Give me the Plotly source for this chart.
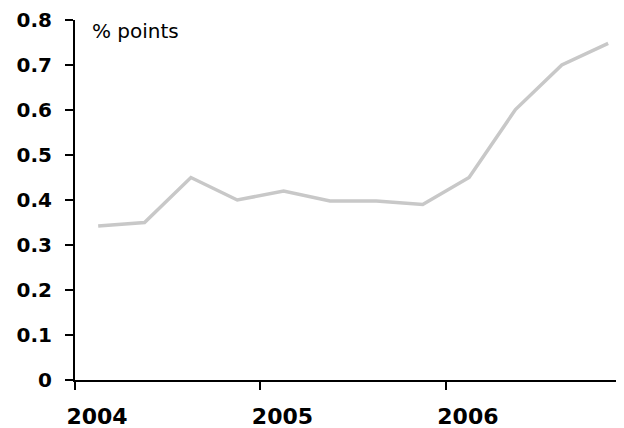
import plotly.graph_objects as go

# quarterly data, 2004 Q1 - 2006 Q4
years = [2004, 2004, 2004, 2004, 2005, 2005, 2005, 2005, 2006, 2006, 2006, 2006]
quarters = [1, 2, 3, 4, 1, 2, 3, 4, 1, 2, 3, 4]
values = [0.342, 0.350, 0.450, 0.400, 0.420, 0.398, 0.398, 0.390, 0.450, 0.601, 0.700, 0.748]
tick_years = [2004, 2005, 2006]
y_ticks = [0, 0.1, 0.2, 0.3, 0.4, 0.5, 0.6, 0.7, 0.8]
y_labels = ["0", "0.1", "0.2", "0.3", "0.4", "0.5", "0.6", "0.7", "0.8"]

# place each quarter at its midpoint in the year
x = [y + (q - 0.5) / 4 for y, q in zip(years, quarters)]

fig = go.Figure()
fig.add_trace(go.Scatter(x=x, y=values, mode="lines",
                         line=dict(color="#c8c8c8", width=3.5),
                         showlegend=False, hoverinfo="skip"))

# page body has an 8px margin, so the figure is shrunk by that much
fig.update_layout(
    width=616, height=420,
    margin=dict(l=67, r=1, t=12, b=48),
    plot_bgcolor="white", paper_bgcolor="white",
    font=dict(family="DejaVu Sans", color="black"),
    annotations=[dict(text="% points", x=0.027, y=0.969, xref="paper", yref="paper",
                      xanchor="left", yanchor="middle", showarrow=False,
                      font=dict(size=20, family="DejaVu Sans", color="black"))],
)
fig.update_xaxes(range=[2004, 2006.955], tickvals=tick_years, ticktext=[str(t) for t in tick_years],
                 showgrid=False, zeroline=False, showline=True, linecolor="black", linewidth=2,
                 ticks="outside", ticklen=8, tickwidth=2, tickcolor="black",
                 tickfont=dict(size=22, family="DejaVu Sans", weight="bold"),
                 ticklabelstandoff=8, ticklabelshift=22, automargin=False)
fig.update_yaxes(range=[0, 0.8], tickvals=y_ticks, ticktext=y_labels,
                 showgrid=False, zeroline=False, showline=True, linecolor="black", linewidth=2,
                 ticks="outside", ticklen=8, tickwidth=2, tickcolor="black",
                 tickfont=dict(size=20, family="DejaVu Sans", weight="bold"),
                 ticklabelstandoff=9, automargin=False)

fig.write_html("out.html")
